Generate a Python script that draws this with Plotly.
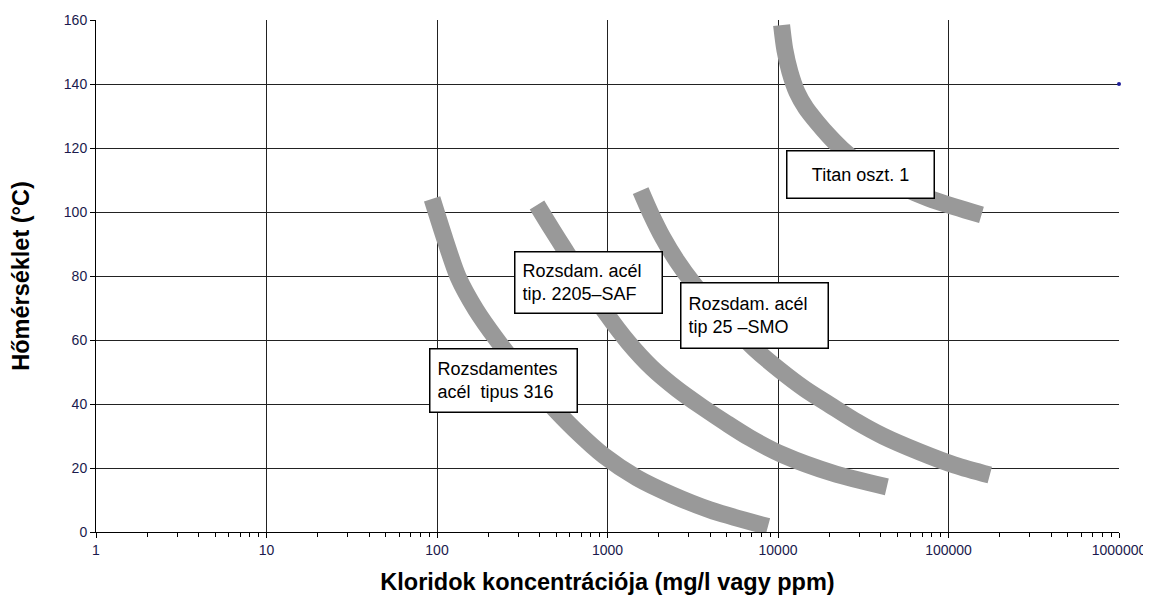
import plotly.graph_objects as go

# ---- data ----
x_tick_vals = [1, 10, 100, 1000, 10000, 100000, 1000000]
x_tick_text = ["1", "10", "100", "1000", "10000", "100000", "1000000"]
y_tick_vals = [0, 20, 40, 60, 80, 100, 120, 140, 160]

# Rozsdamentes acél tipus 316
c316_x = [93.6, 111.6, 133, 169.5, 225, 315.4, 448, 645, 954, 1489, 2388, 3990, 8727]
c316_y = [104.1, 91.3, 79.7, 69.4, 60.0, 50.0, 40.6, 31.9, 23.8, 16.9, 11.6, 6.9, 1.7]

# Rozsdam. acél tip. 2205-SAF
c2205_x = [386, 467, 564, 738, 980, 1319, 1823, 2555, 3581, 4951, 6844, 10683, 20977, 43480]
c2205_y = [102.2, 95.0, 88.1, 78.1, 68.4, 59.4, 51.3, 44.7, 39.1, 34.1, 29.4, 24.1, 18.4, 14.1]

# Rozsdam. acél tip 25-SMO
csmo_x = [1565, 1791, 2115, 2555, 3171, 4097, 5439, 7322, 10259, 14379, 20148, 29003,
          41201, 67857, 108870, 174660]
csmo_y = [106.7, 99.6, 91.9, 84.7, 77.8, 70.9, 64.1, 57.2, 50.6, 44.7, 39.7, 34.4,
          30.0, 25.0, 20.9, 17.8]

# Titan oszt. 1
cti_x = [10498, 10975, 11743, 12905, 14572, 16904, 19879, 23691, 29404, 38513, 53247,
         75632, 108870, 156100]
cti_y = [158.4, 150.6, 143.8, 137.5, 132.5, 128.1, 123.8, 119.7, 115.6, 111.6, 107.8,
         104.4, 101.6, 99.1]

# stray point at right edge
pt_x = [1000000]
pt_y = [140]

labels = [
    ("Rozsdamentes<br>acél  tipus 316", 2.39, 47.3, "left", 48),
    ("Rozsdam. acél<br>tip. 2205–SAF", 2.886, 78.0, "left", 46),
    ("Rozsdam. acél<br>tip 25 –SMO", 3.863, 67.8, "left", 50),
    ("Titan oszt. 1", 4.486, 111.8, "center", 32),
]

FONT = "Arial, 'Liberation Sans', sans-serif"
CURVE = "#999999"
TICKC = "#1a1a4d"

fig = go.Figure()
for xs, ys in [(c316_x, c316_y), (c2205_x, c2205_y), (csmo_x, csmo_y), (cti_x, cti_y)]:
    fig.add_trace(go.Scatter(x=xs, y=ys, mode="lines",
                             line=dict(color=CURVE, width=17, shape="spline", smoothing=0.8),
                             hoverinfo="skip", showlegend=False))
fig.add_trace(go.Scatter(x=pt_x, y=pt_y, mode="markers",
                         marker=dict(color="#1f1f9a", size=4),
                         cliponaxis=False, showlegend=False))

for text, lx, ly, al, h in labels:
    fig.add_annotation(x=lx, y=ly, xref="x", yref="y", text=text, showarrow=False,
                       align=al, xanchor="center", yanchor="middle",
                       font=dict(family=FONT, size=18, color="black"),
                       bgcolor="white", bordercolor="black", borderwidth=1.5,
                       borderpad=7, width=132, height=h)

fig.add_annotation(x=3.249, y=-5.6, xref="x", yref="y", text="0,1%", showarrow=False,
                   font=dict(family=FONT, size=14, color=TICKC))

fig.update_layout(
    width=1143, height=592,
    margin=dict(l=88, r=32, t=12, b=68),
    paper_bgcolor="white", plot_bgcolor="white",
    font=dict(family=FONT),
    xaxis=dict(type="log", range=[0, 6], tickmode="array",
               tickvals=x_tick_vals, ticktext=x_tick_text,
               tickfont=dict(family=FONT, size=14, color=TICKC),
               showline=True, linecolor="black", linewidth=1,
               ticks="outside", ticklen=5, tickcolor="black",
               showgrid=True, gridcolor="#222222", gridwidth=1, zeroline=False,
               minor=dict(ticks="outside", ticklen=4, tickcolor="black", dtick="D1", showgrid=False),
               title=dict(text="<b>Kloridok koncentrációja (mg/l vagy ppm)</b>",
                          font=dict(family=FONT, size=23.5, color="black"), standoff=16),
               automargin=False),
    yaxis=dict(range=[0, 160], tickmode="array", tickvals=y_tick_vals,
               tickfont=dict(family=FONT, size=14, color=TICKC),
               showline=True, linecolor="black", linewidth=1,
               ticks="outside", ticklen=5, tickcolor="black",
               showgrid=True, gridcolor="#222222", gridwidth=1, zeroline=False,
               title=dict(text="<b>Hőmérséklet (°C)</b>",
                          font=dict(family=FONT, size=23.5, color="black"), standoff=28),
               automargin=False),
)

fig.write_html("out.html")
